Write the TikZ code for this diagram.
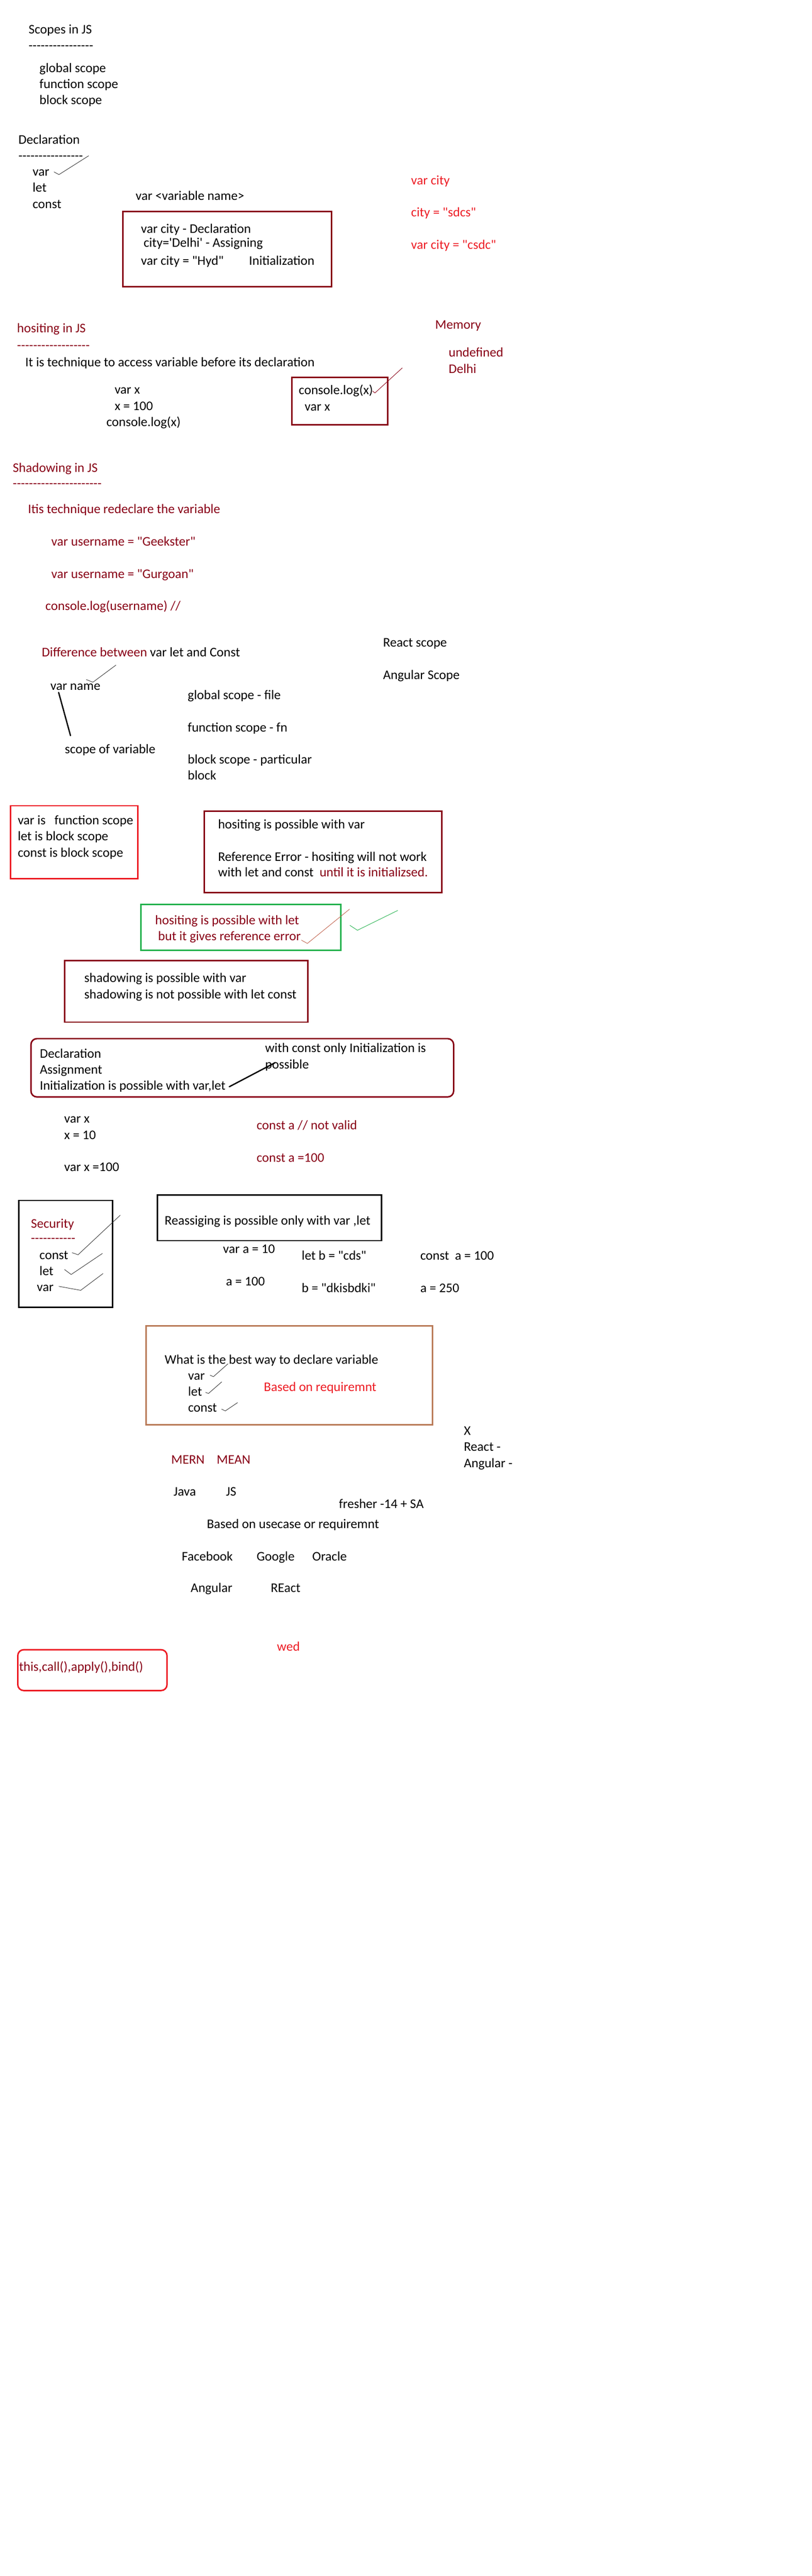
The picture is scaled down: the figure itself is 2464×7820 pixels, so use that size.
\documentclass[tikz,border=0pt]{standalone}
\usepackage{fontspec}
\setmainfont{Carlito}[Ligatures=TeXOff]
\definecolor{dred}{HTML}{880015}
\definecolor{bred}{HTML}{ED1C24}
\definecolor{pgreen}{HTML}{22B14C}
\definecolor{pbrown}{HTML}{B97A57}
\definecolor{tick}{HTML}{C0604A}
\tikzset{
  txt/.style={anchor=base west, inner sep=0pt, outer sep=0pt, font=\fontsize{40}{49}\selectfont, text=black},
  dtxt/.style={txt, text=dred},
  rtxt/.style={txt, text=bred},
  frame/.style={draw=#1, line width=4.5pt, anchor=north west, inner sep=0pt, outer sep=0pt},
  tickline/.style={draw=#1, line width=1.4pt, line join=round, line cap=round},
  heavy/.style={draw=black, line width=4pt, line cap=round},
}
\begin{document}
\begin{tikzpicture}[x=1pt, y=-1pt]
\useasboundingbox[fill=white] (0,0) rectangle (2464,7820);

% Scopes in JS
\node[txt] (scopes) at (87,103) {Scopes in JS};
\node[txt] (scopesdash) at (87,151) {----------------};
\node[txt] (gs) at (120,219) {global scope};
\node[txt] (fs) at (120,268) {function scope};
\node[txt] (bs) at (120,317) {block scope};

% Declaration
\node[txt] (decl) at (56,437) {Declaration};
\node[txt] (decldash) at (56,485) {----------------};
\node[txt] (dvar) at (99,534) {var};
\node[txt] (dlet) at (99,583) {let};
\node[txt] (dconst) at (99,632) {const};
\coordinate (c1a) at (164,522); \coordinate (c1b) at (179,530); \coordinate (c1c) at (269,473);
\draw[tickline=black!80] (c1a) -- (c1b) -- (c1c);
\node[txt] (varname) at (412,607) {var <variable name>};
\node[frame=dred, minimum width=634pt, minimum height=228pt] (box1) at (373,642) {};
\node[txt] (b1l1) at (428,707) {var city - Declaration};
\node[txt] (b1l2) at (436,750) {city='Delhi' - Assigning};
\node[txt] (b1l3) at (428,805) {var city = "Hyd"};
\node[txt] (b1l4) at (756,805) {Initialization};
\node[rtxt] (rc1) at (1248,560) {var city};
\node[rtxt] (rc2) at (1248,658) {city = "sdcs"};
\node[rtxt] (rc3) at (1248,756) {var city = "csdc"};

% Hoisting
\node[dtxt] (mem) at (1321,999) {Memory};
\node[dtxt] (undef) at (1362,1083) {undefined};
\node[dtxt] (delhi) at (1362,1133) {Delhi};
\node[dtxt] (hoist) at (52,1009) {hositing in JS};
\node[dtxt] (hoistdash) at (52,1061) {------------------};
\node[txt] (hdef) at (77,1113) {It is technique to access variable before its declaration};
\node[txt] (hx1) at (348,1196) {var x};
\node[txt] (hx2) at (348,1245) {x = 100};
\node[txt] (hx3) at (323,1294) {console.log(x)};
\node[frame=dred, minimum width=291pt, minimum height=144pt] (box2) at (886,1145) {};
\node[txt] (b2l1) at (907,1198) {console.log(x)};
\node[txt] (b2l2) at (925,1247) {var x};
\coordinate (c2a) at (1131,1187); \coordinate (c2b) at (1138,1193); \coordinate (c2c) at (1221,1117);
\draw[tickline=dred] (c2a) -- (c2b) -- (c2c);

% Shadowing
\node[dtxt] (shadow) at (39,1433) {Shadowing in JS};
\node[dtxt] (shadowdash) at (39,1481) {----------------------};
\node[dtxt] (sdef) at (85,1559) {Itis technique redeclare the variable};
\node[dtxt] (s1) at (156,1657) {var username = "Geekster"};
\node[dtxt] (s2) at (156,1755) {var username = "Gurgoan"};
\node[dtxt] (s3) at (138,1853) {console.log(username) //};

% Difference
\node[txt] (diff) at (127,1994) {\textcolor{dred}{Difference between} var let and Const};
\node[txt] (react) at (1163,1964) {React scope};
\node[txt] (angular) at (1163,2062) {Angular Scope};
\node[txt] (vname) at (153,2095) {var name};
\coordinate (c3a) at (262,2063); \coordinate (c3b) at (282,2071); \coordinate (c3c) at (352,2019);
\draw[tickline=black!80] (c3a) -- (c3b) -- (c3c);
\coordinate (v1) at (178,2102); \coordinate (v2) at (214,2233);
\draw[heavy] (v1) -- (v2);
\node[txt] (scopevar) at (197,2287) {scope of variable};
\node[txt] (gsf) at (570,2123) {global scope - file};
\node[txt] (fsf) at (570,2221) {function scope - fn};
\node[txt] (bsf) at (570,2319) {block scope - particular};
\node[txt] (bsf2) at (570,2367) {block};

% Boxes
\node[frame=bred, minimum width=386pt, minimum height=222pt] (box3) at (32,2446) {};
\node[txt] (b3l1) at (54,2503) {var is\ \ \ function scope};
\node[txt] (b3l2) at (54,2552) {let is block scope};
\node[txt] (b3l3) at (54,2601) {const is block scope};

\node[frame=dred, minimum width=721pt, minimum height=247pt] (box4) at (620,2462) {};
\node[txt] (b4l1) at (662,2516) {hositing is possible with var};
\node[txt] (b4l2) at (662,2614) {Reference Error - hositing will not work};
\node[txt] (b4l3) at (662,2661) {with let and const\ \ \textcolor{dred}{until it is initializsed.}};

\node[frame=pgreen, minimum width=607pt, minimum height=140pt] (box5) at (428,2745) {};
\node[dtxt] (b5l1) at (471,2806) {hositing is possible with let};
\node[dtxt] (b5l2) at (480,2855) {but it gives reference error};
\coordinate (c4a) at (915,2854); \coordinate (c4b) at (933,2864); \coordinate (c4c) at (1061,2760);
\draw[tickline=tick] (c4a) -- (c4b) -- (c4c);
\coordinate (c5a) at (1062,2809); \coordinate (c5b) at (1085,2824); \coordinate (c5c) at (1207,2764);
\draw[tickline=pgreen] (c5a) -- (c5b) -- (c5c);

\node[frame=dred, minimum width=739pt, minimum height=187pt] (box6) at (196,2916) {};
\node[txt] (b6l1) at (256,2982) {shadowing is possible with var};
\node[txt] (b6l2) at (256,3031) {shadowing is not possible with let const};

\node[frame=dred, rounded corners=18pt, minimum width=1283pt, minimum height=177pt] (box7) at (94,3153) {};
\node[txt] (b7l1) at (121,3211) {Declaration};
\node[txt] (b7l2) at (121,3260) {Assignment};
\node[txt] (b7l3) at (121,3309) {Initialization is possible with var,let};
\node[txt] (b7r1) at (805,3195) {with const only Initialization is};
\node[txt] (b7r2) at (805,3244) {possible};
\coordinate (w1) at (696,3299); \coordinate (w2) at (835,3226);
\draw[heavy] (w1) -- (w2);

\node[txt] (vx1) at (195,3409) {var x};
\node[txt] (vx2) at (195,3458) {x = 10};
\node[txt] (vx3) at (195,3556) {var x =100};
\node[dtxt] (ca1) at (779,3429) {const a // not valid};
\node[dtxt] (ca2) at (779,3527) {const a =100};

% Security
\node[frame=black, minimum width=285pt, minimum height=325pt] (box8) at (57,3644) {};
\node[dtxt] (sec) at (94,3727) {Security};
\node[dtxt] (secdash) at (94,3771) {-----------};
\node[txt] (sconst) at (120,3823) {const};
\node[txt] (slet) at (120,3871) {let};
\node[txt] (svar) at (112,3920) {var};
\coordinate (c6a) at (219,3803); \coordinate (c6b) at (237,3809); \coordinate (c6c) at (365,3689);
\draw[tickline=black!80] (c6a) -- (c6b) -- (c6c);
\coordinate (c7a) at (196,3854); \coordinate (c7b) at (216,3869); \coordinate (c7c) at (311,3805);
\draw[tickline=black!80] (c7a) -- (c7b) -- (c7c);
\coordinate (c8a) at (179,3905); \coordinate (c8b) at (245,3917); \coordinate (c8c) at (313,3866);
\draw[tickline=black!80] (c8a) -- (c8b) -- (c8c);

% Reassigning
\node[frame=black, minimum width=680pt, minimum height=139pt] (box9) at (478,3627) {};
\node[txt] (b9l1) at (500,3719) {Reassiging is possible only with var ,let};
\node[txt] (ra1) at (677,3805) {var a = 10};
\node[txt] (ra2) at (686,3903) {a = 100};
\node[txt] (rb1) at (916,3825) {let b = "cds"};
\node[txt] (rb2) at (916,3923) {b = "dkisbdki"};
\node[txt] (rc1b) at (1276,3825) {const\ \ a = 100};
\node[txt] (rc2b) at (1276,3923) {a = 250};

% Best way
\node[frame=pbrown, minimum width=870pt, minimum height=300pt] (box10) at (443,4025) {};
\node[txt] (b10l1) at (500,4140) {What is the best way to declare variable};
\node[txt] (b10l2) at (571,4189) {var};
\node[txt] (b10l3) at (571,4237) {let};
\node[txt] (b10l4) at (571,4286) {const};
\node[rtxt] (b10r) at (801,4224) {Based on requiremnt};
\coordinate (c9a) at (638,4175); \coordinate (c9b) at (648,4179); \coordinate (c9c) at (692,4140);
\draw[tickline=black!80] (c9a) -- (c9b) -- (c9c);
\coordinate (c10a) at (624,4227); \coordinate (c10b) at (633,4230); \coordinate (c10c) at (673,4195);
\draw[tickline=black!80] (c10a) -- (c10b) -- (c10c);
\coordinate (c11a) at (673,4278); \coordinate (c11b) at (684,4283); \coordinate (c11c) at (721,4258);
\draw[tickline=black!80] (c11a) -- (c11b) -- (c11c);

\node[txt] (xx) at (1408,4356) {X};
\node[txt] (xreact) at (1408,4405) {React -};
\node[txt] (xang) at (1408,4455) {Angular -};

\node[dtxt] (mern) at (520,4444) {MERN};
\node[dtxt] (mean) at (658,4444) {MEAN};
\node[txt] (java) at (527,4541) {Java};
\node[txt] (js) at (686,4541) {JS};
\node[txt] (fresher) at (1029,4579) {fresher -14 + SA};
\node[txt] (usecase) at (628,4640) {Based on usecase or requiremnt};
\node[txt] (fb) at (552,4738) {Facebook};
\node[txt] (google) at (779,4738) {Google};
\node[txt] (oracle) at (948,4738) {Oracle};
\node[txt] (angl) at (579,4834) {Angular};
\node[txt] (reactb) at (822,4834) {REact};

\node[rtxt] (wed) at (841,5012) {wed};
\node[frame=bred, rounded corners=18pt, minimum width=453pt, minimum height=124pt] (box11) at (54,5008) {};
\node[dtxt] (thiscall) at (58,5073) {this,call(),apply(),bind()};
\end{tikzpicture}
\end{document}
